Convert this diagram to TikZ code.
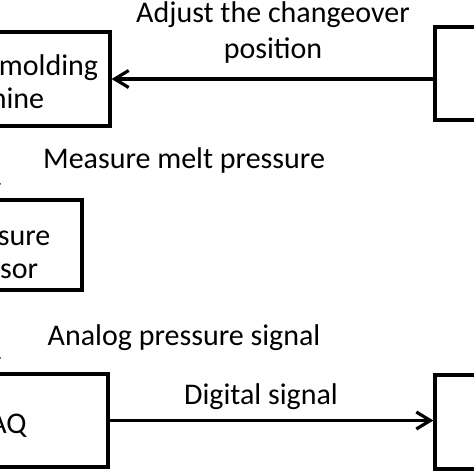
\documentclass[tikz,border=0pt]{standalone}
\usepackage{fontspec}
\setmainfont{Carlito}
\usetikzlibrary{arrows.meta}
\newcommand{\tstrut}[1]{\rule{0pt}{#1}}
\newcommand{\bstrut}[1]{\rule[-#1]{0pt}{#1}}
\begin{document}
\begin{tikzpicture}[x=1pt,y=-1pt,
  box/.style={draw=black,line width=3.2pt,align=center,inner sep=0pt,font=\fontsize{30}{33}\selectfont},
  lbl/.style={align=center,inner sep=0pt,font=\fontsize{30}{36}\selectfont},
  arr/.style={line width=3.2pt,-{Straight Barb[length=14pt,width=17pt,line width=3.2pt]}}]
\useasboundingbox (0,0) rectangle (474,474);
\clip (0,0) rectangle (474,474);
\fill[white] (0,0) rectangle (474,474);
% left column boxes
\node[box,minimum width=236pt,minimum height=94pt] (mm) at (-8,79) {\tstrut{30pt}Injection molding\\machine\bstrut{5pt}};
\node[box,minimum width=168pt,minimum height=90pt] (ps) at (-2,245) {\tstrut{35pt}Pressure\\sensor};
\node[box,minimum width=218pt,minimum height=93pt] (daq) at (-1,420.5) {\tstrut{30pt}DAQ\bstrut{3pt}};
% right column boxes
\node[box,minimum width=200pt,minimum height=93pt] (ctl) at (535,73.5) {};
\node[box,minimum width=200pt,minimum height=94pt] (pc) at (535,422) {};
% arrow axis of the left column
\coordinate (ax) at (-9,0);
% connectors
\draw[arr] (mm.east -| ctl.west) -- (mm.east);
\draw[arr] (mm.south -| ax) -- ([yshift=-1.5pt]ps.north -| ax);
\draw[arr] (ps.south -| ax) -- ([yshift=-1.5pt]daq.north -| ax);
\draw[arr] (daq.east) -- (daq.east -| pc.west);
% labels
\node[lbl,anchor=north] (l1) at (273,-3) {\tstrut{25pt}Adjust the changeover\\position};
\node[lbl,anchor=base] (l2) at (184,168) {Measure melt pressure};
\node[lbl,anchor=base] (l3) at (184,345) {Analog pressure signal};
\node[lbl,anchor=base] (l4) at (261,404) {Digital signal};
\end{tikzpicture}
\end{document}
